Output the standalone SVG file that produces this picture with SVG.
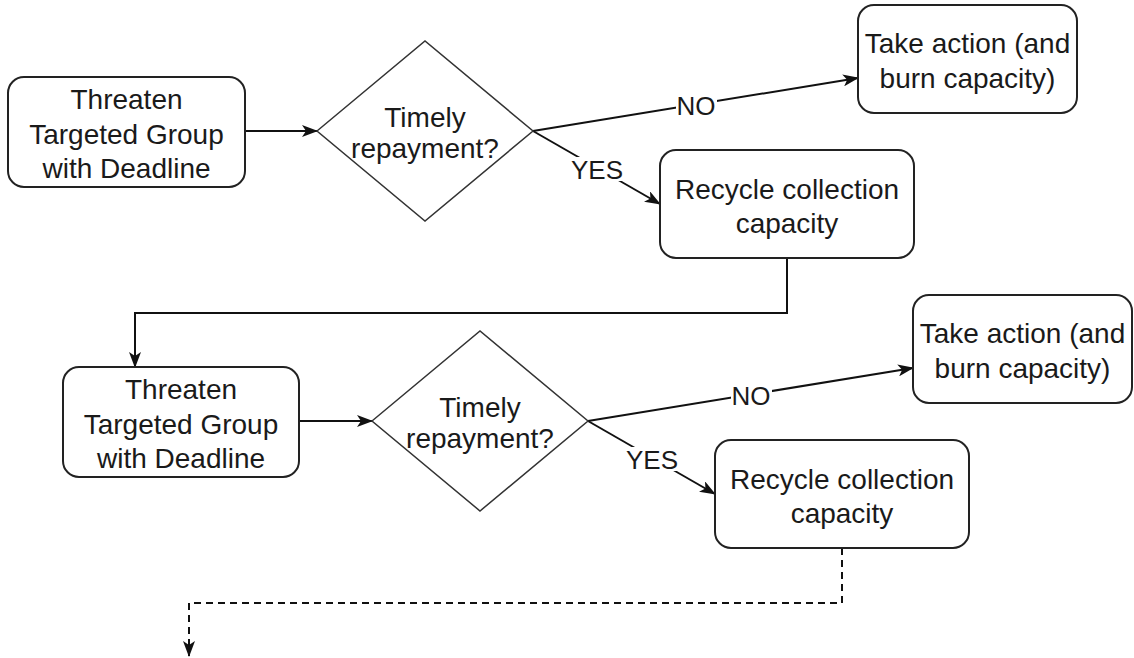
<svg xmlns="http://www.w3.org/2000/svg" width="1134" height="658" viewBox="0 0 1134 658">
<style>
.node{fill:#fff;stroke:#222;stroke-width:2}
.dia{fill:#fff;stroke:#333;stroke-width:1.5}
.t{font-family:"Liberation Sans",Arial,sans-serif;font-size:28px;fill:#1a1a1a;text-anchor:middle}
.lbl{font-family:"Liberation Sans",Arial,sans-serif;font-size:26px;fill:#1a1a1a;text-anchor:middle}
.c{fill:none;stroke:#111;stroke-width:2}
.d{stroke-dasharray:7 5}
.bg{fill:#fff;stroke:none}
</style>
<defs>
<marker id="arr" markerUnits="userSpaceOnUse" markerWidth="16" markerHeight="12" refX="15" refY="6" orient="auto">
<path d="M0,0 L16,6 L0,12 L4,6 Z" fill="#111"/>
</marker>
</defs>
<g id="connectors">
<line class="c" x1="245" y1="131" x2="317" y2="131" marker-end="url(#arr)"/>
<line class="c" x1="533" y1="131" x2="858" y2="78" marker-end="url(#arr)"/>
<line class="c" x1="533" y1="131" x2="660" y2="204" marker-end="url(#arr)"/>
<polyline class="c" points="787,258 787,313 135,313 135,367" marker-end="url(#arr)"/>
<line class="c" x1="299" y1="421" x2="372" y2="421" marker-end="url(#arr)"/>
<line class="c" x1="588" y1="421" x2="913" y2="368" marker-end="url(#arr)"/>
<line class="c" x1="588" y1="421" x2="715" y2="494" marker-end="url(#arr)"/>
<polyline class="c d" points="842,548 842,603 189,603 189,656" marker-end="url(#arr)"/>
<rect class="bg" x="676" y="95" width="41" height="22"/>
<text class="lbl" x="696" y="115">NO</text>
<rect class="bg" x="569" y="157" width="56" height="24"/>
<text class="lbl" x="597" y="179">YES</text>
<rect class="bg" x="731" y="385" width="41" height="22"/>
<text class="lbl" x="751" y="405">NO</text>
<rect class="bg" x="624" y="447" width="56" height="24"/>
<text class="lbl" x="652" y="469">YES</text>
</g>
<g id="threaten1">
<rect class="node" x="8" y="77" width="237" height="110" rx="16"/>
<text class="t" x="126.5" y="109">Threaten</text>
<text class="t" x="126.5" y="143.5">Targeted Group</text>
<text class="t" x="126.5" y="178">with Deadline</text>
</g>
<g id="decision1">
<polygon class="dia" points="317,131 425,41 533,131 425,221"/>
<text class="t" x="425" y="127">Timely</text>
<text class="t" x="425" y="158">repayment?</text>
</g>
<g id="action1">
<rect class="node" x="858" y="5" width="219" height="108" rx="16"/>
<text class="t" x="967.5" y="53">Take action (and</text>
<text class="t" x="967.5" y="88">burn capacity)</text>
</g>
<g id="recycle1">
<rect class="node" x="660" y="150" width="254" height="108" rx="16"/>
<text class="t" x="787" y="199">Recycle collection</text>
<text class="t" x="787" y="233">capacity</text>
</g>
<g id="threaten2">
<rect class="node" x="63" y="367" width="236" height="110" rx="16"/>
<text class="t" x="181" y="399">Threaten</text>
<text class="t" x="181" y="433.5">Targeted Group</text>
<text class="t" x="181" y="468">with Deadline</text>
</g>
<g id="decision2">
<polygon class="dia" points="372,421 480,331 588,421 480,511"/>
<text class="t" x="480" y="417">Timely</text>
<text class="t" x="480" y="448">repayment?</text>
</g>
<g id="action2">
<rect class="node" x="913" y="295" width="219" height="108" rx="16"/>
<text class="t" x="1022.5" y="343">Take action (and</text>
<text class="t" x="1022.5" y="378">burn capacity)</text>
</g>
<g id="recycle2">
<rect class="node" x="715" y="440" width="254" height="108" rx="16"/>
<text class="t" x="842" y="489">Recycle collection</text>
<text class="t" x="842" y="523">capacity</text>
</g>
</svg>
